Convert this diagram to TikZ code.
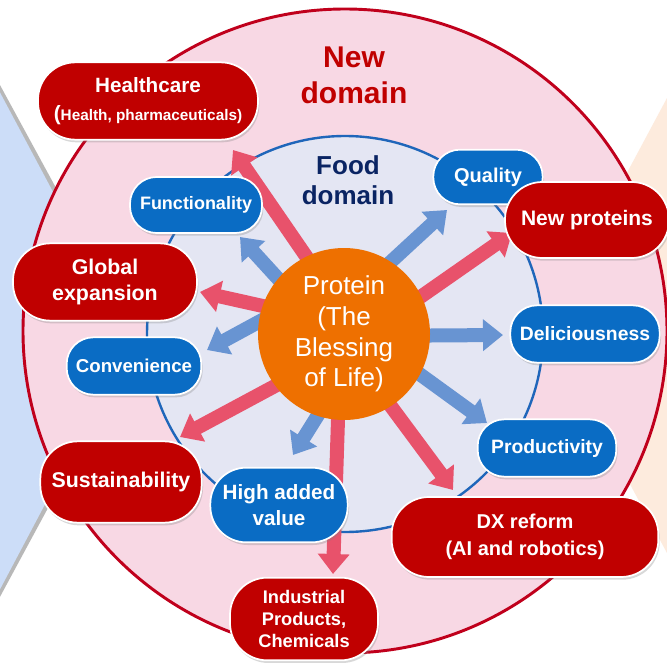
\documentclass[tikz,border=0pt]{standalone}
\usepackage{fontspec}
\setmainfont{Liberation Sans}
\usetikzlibrary{arrows.meta,shadows}
\definecolor{pillred}{HTML}{C00000}
\definecolor{pillblue}{HTML}{0A6CC4}
\definecolor{ringred}{HTML}{C0001C}
\definecolor{ringpink}{HTML}{F8D8E4}
\definecolor{foodfill}{HTML}{E4E6F3}
\definecolor{foodline}{HTML}{1F66BA}
\definecolor{coreorange}{HTML}{EE7000}
\definecolor{arrred}{HTML}{E8526B}
\definecolor{arrblue}{HTML}{6894D2}
\definecolor{navy}{HTML}{0A2463}
\definecolor{sideblue}{HTML}{CCDDF8}
\definecolor{sidepeach}{HTML}{FDEBDD}
\pgfdeclarelayer{back}
\pgfdeclarelayer{mid}
\pgfsetlayers{back,mid,main}
\tikzset{
  pill/.style={rectangle, draw=white, line width=1.3pt, text=white, align=center, inner sep=0pt,
    drop shadow={opacity=.3, shadow xshift=1pt, shadow yshift=-2pt}},
  redpill/.style={pill, fill=pillred, rounded corners=28pt},
  bluepill/.style={pill, fill=pillblue, rounded corners=20pt},
  redarrow/.style={draw=arrred, line width=10.5pt, -{Triangle[width=23pt,length=15pt]}, shorten <=-14pt},
  bluearrow/.style={redarrow, draw=arrblue},
}

\begin{document}
\begin{tikzpicture}[x=0.75pt,y=-0.75pt]
  \useasboundingbox (0,0) rectangle (667,663);
  % backdrop and the two rings
  \begin{pgfonlayer}{back}
    \fill[white] (0,0) rectangle (667,663);
    \draw[black!55, opacity=.5, line width=5pt, line join=round] (-12,70) -- (135,340) -- (-12,612);
    \fill[sideblue] (-12,70) -- (132,340) -- (-12,612) -- cycle;
    \fill[sidepeach] (667,98) -- (545,326) -- (667,553) -- cycle;
    \filldraw[fill=ringpink, draw=ringred, line width=2.2pt] (345,331) circle (322);
    \filldraw[fill=foodfill, draw=foodline, line width=1.8pt] (345,334) circle (198);
  \end{pgfonlayer}

  \node[circle, fill=coreorange, minimum size=129pt, inner sep=0pt, text=white, align=center,
    font=\fontsize{19.5}{23}\selectfont] (core) at (344,334) {Protein\\(The\\Blessing\\of Life)};

  \node[text=pillred, align=center, font=\bfseries\fontsize{22.5}{27}\selectfont] (newdom) at (354,75) {New\\domain};
  \node[text=navy, align=center, font=\bfseries\fontsize{19.5}{22.5}\selectfont] (fooddom) at (348,180) {Food\\domain};

  % food domain (blue)
  \node[bluepill, minimum width=99pt, minimum height=42pt, font=\bfseries\fontsize{13.5}{16}\selectfont] (func) at (196,205) {Functionality};
  \node[bluepill, minimum width=82pt, minimum height=41pt, font=\bfseries\fontsize{15}{18}\selectfont] (quality) at (488,177) {Quality};
  \node[bluepill, minimum width=101pt, minimum height=43pt, font=\bfseries\fontsize{14}{17}\selectfont] (conven) at (134,366) {Convenience};
  \node[bluepill, minimum width=112pt, minimum height=43pt, font=\bfseries\fontsize{14.5}{17}\selectfont] (delic) at (585,334) {Deliciousness};
  \node[bluepill, minimum width=104pt, minimum height=43pt, font=\bfseries\fontsize{14.5}{17}\selectfont] (produc) at (547,448) {Productivity};
  \node[bluepill, rounded corners=27pt, minimum width=103pt, minimum height=56pt, font=\bfseries\fontsize{15.5}{19}\selectfont] (highval) at (279,505) {High added\\value};

  % new domain (red)
  \node[redpill, minimum width=165pt, minimum height=58pt, font=\bfseries\fontsize{15.5}{21}\selectfont] (health) at (148,101)
    {Healthcare\\(\fontsize{11.5}{21}\selectfont Health, pharmaceuticals)};
  \node[redpill, minimum width=138pt, minimum height=58pt, font=\bfseries\fontsize{16}{19}\selectfont] (global) at (105,282) {Global\\expansion};
  \node[redpill, minimum width=123pt, minimum height=57pt, font=\bfseries\fontsize{15.75}{19}\selectfont] (newprot) at (587,220) {New proteins};
  \node[redpill, minimum width=121pt, minimum height=61pt, font=\bfseries\fontsize{16}{19}\selectfont] (sustain) at (121,482) {Sustainability};
  \node[redpill, minimum width=200pt, minimum height=60pt, font=\bfseries\fontsize{15}{20}\selectfont] (dx) at (525,537) {DX reform\\(AI and robotics)};
  \node[redpill, minimum width=111pt, minimum height=62pt, font=\bfseries\fontsize{13.7}{16.5}\selectfont] (indus) at (304,619) {Industrial\\Products,\\Chemicals};

  % arrow tips
  \coordinate (t-health) at (233,150);
  \coordinate (t-global) at (200,292);
  \coordinate (t-newprot) at (512,233);
  \coordinate (t-sustain) at (180,437);
  \coordinate (t-dx) at (453,490);
  \coordinate (t-indus) at (333,574);
  \coordinate (t-func) at (240,237);
  \coordinate (t-quality) at (447,210);
  \coordinate (t-conven) at (207,350);
  \coordinate (t-delic) at (503,335);
  \coordinate (t-produc) at (487,423);
  \coordinate (t-highval) at (293,455);

  \begin{pgfonlayer}{mid}
    \draw[bluearrow] (core.140) -- (t-func);
    \draw[bluearrow] (core.57) -- (t-quality);
    \draw[bluearrow] (core.172) -- (t-conven);
    \draw[bluearrow] (core.359) -- (t-delic);
    \draw[bluearrow] (core.332) -- (t-produc);
    \draw[bluearrow] (core.252) -- (t-highval);
    \draw[redarrow] (core.116) -- (t-health);
    \draw[redarrow] (core.161) -- (t-global);
    \draw[redarrow] (core.26) -- (t-newprot);
    \draw[redarrow] (core.217) -- (t-sustain);
    \draw[redarrow] (core.303) -- (t-dx);
    \draw[redarrow] (core.266) -- (t-indus);
  \end{pgfonlayer}
\end{tikzpicture}
\end{document}
